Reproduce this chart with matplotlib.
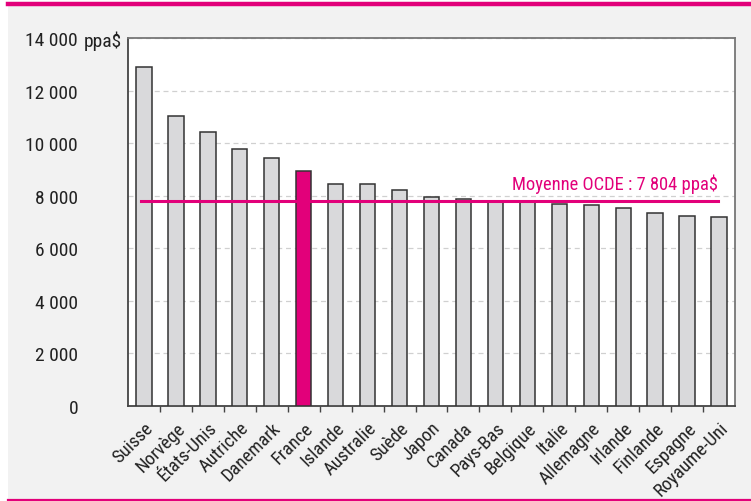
import numpy as np
import matplotlib.pyplot as plt
import matplotlib.transforms as mtransforms
from matplotlib.patches import Rectangle
from matplotlib.lines import Line2D

MAGENTA = '#e2007a'

pays = ['Suisse', 'Norvège', 'États-Unis', 'Autriche', 'Danemark', 'France',
        'Islande', 'Australie', 'Suède', 'Japon', 'Canada', 'Pays-Bas',
        'Belgique', 'Italie', 'Allemagne', 'Irlande', 'Finlande', 'Espagne',
        'Royaume-Uni']
depense = [12880, 11015, 10410, 9760, 9420, 8935, 8430, 8430, 8225, 7935,
           7870, 7770, 7745, 7670, 7655, 7515, 7350, 7225, 7175]
moyenne_ocde = 7804
yticks = [0, 2000, 4000, 6000, 8000, 10000, 12000, 14000]
ytick_labels = ['0', '2 000', '4 000', '6 000', '8 000', '10 000', '12 000', '14 000']

# police étroite si disponible, sinon repli
plt.rcParams['font.family'] = ['Roboto Condensed', 'Liberation Sans Narrow', 'Roboto', 'DejaVu Sans']

fig = plt.figure(figsize=(7.51, 5.02), dpi=100)
fig.patch.set_facecolor('white')

# panneau gris et filets magenta
fig.patches.append(Rectangle((8 / 751, 0), 1, 495 / 502, transform=fig.transFigure,
                             facecolor='#f2f2f2', edgecolor='none', zorder=-5))
fig.lines.append(Line2D([8 / 751, 1], [1 - 5 / 502, 1 - 5 / 502], transform=fig.transFigure,
                        color=MAGENTA, lw=3.2, zorder=-4))
fig.lines.append(Line2D([8 / 751, 1], [1.5 / 502, 1.5 / 502], transform=fig.transFigure,
                        color=MAGENTA, lw=1.6, zorder=-4))

ax = fig.add_axes([128 / 751, 95 / 502, 607 / 751, 368 / 502])
ax.set_facecolor('white')

x = np.arange(len(pays))
couleurs = [MAGENTA if p == 'France' else '#d9d9db' for p in pays]
ax.bar(x, depense, width=0.48, color=couleurs, edgecolor='#333333', linewidth=1.1, zorder=3)

ax.plot([-0.08, 17.98], [moyenne_ocde, moyenne_ocde], color=MAGENTA, lw=2.2, zorder=4)
ax.text(17.98, moyenne_ocde + 300, 'Moyenne OCDE : 7 804 ppa$', color=MAGENTA,
        fontsize=13.3, ha='right', va='bottom', zorder=5)

ax.set_xlim(-0.5, len(pays) - 0.5)
ax.set_ylim(0, 14000)

ax.set_yticks(yticks)
ax.set_yticklabels(ytick_labels, fontsize=14, color='#222222')
ax.tick_params(axis='y', length=0, pad=36)
fig.text(84 / 751, 1 - 39 / 502, 'ppa$', fontsize=14, color='#222222',
         ha='left', va='center_baseline')

ax.set_xticks(x)
ax.set_xticklabels(pays, rotation=45, ha='right', va='top', rotation_mode='anchor',
                   fontsize=13.5, color='#222222')
offset = mtransforms.ScaledTranslation(6 / 72, 0, fig.dpi_scale_trans)
for t in ax.get_xticklabels():
    t.set_transform(t.get_transform() + offset)
ax.tick_params(axis='x', which='major', length=0, pad=9)
ax.set_xticks(np.arange(0.5, len(pays) - 1, 1), minor=True)
ax.tick_params(axis='x', which='minor', length=4, width=1, color='#444444', direction='out')

ax.grid(axis='y', color='#d0d0d0', linestyle=(0, (4, 3)), lw=0.9, zorder=1)

ax.spines['left'].set_color('#444444')
ax.spines['bottom'].set_color('#444444')
ax.spines['top'].set_color('#777777')
ax.spines['right'].set_color('#777777')
for s in ax.spines.values():
    s.set_linewidth(1.3)

fig.savefig('out.png', dpi=100, facecolor=fig.get_facecolor())
